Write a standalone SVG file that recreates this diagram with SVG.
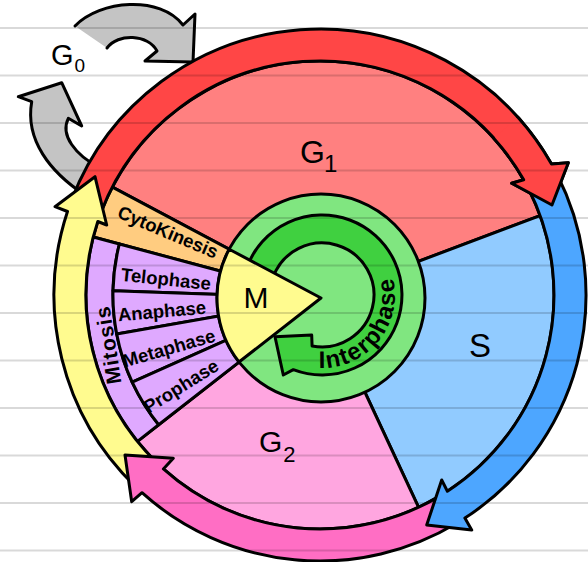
<svg xmlns="http://www.w3.org/2000/svg" width="588" height="562" viewBox="0 0 588 562">
<style>
.o{stroke:#000;stroke-width:3;stroke-linejoin:round;stroke-linecap:round}
.ns{fill:none;stroke:#000;stroke-width:3;stroke-linejoin:round;stroke-linecap:round}
.t{font-family:"Liberation Sans",Arial,sans-serif;fill:#000}
.ph{font-family:"Liberation Sans",Arial,sans-serif;font-weight:bold;font-size:18.5px;text-anchor:middle;dominant-baseline:central;fill:#000}
.gray{fill:#c4c4c4}
</style>
<rect width="588" height="562" fill="#fff"/>

<g id="g0-arrows">
  <path class="gray" d="M 75 26 C 100 0, 160 -5, 183 25 L 195 14 L 193 62 L 145 61 L 157 51 C 148 34, 118 33, 107 48 Z"/>
  <path class="ns" d="M 75 26 C 100 0, 160 -5, 183 25 L 195 14 L 193 62 L 145 61 L 157 51 C 148 34, 118 33, 107 48"/>
  <path class="gray o" d="M 85 195 C 50 172, 25 140, 31.7 101.7 L 18.3 96.7 L 61.7 82.7 L 81.7 126 L 68.3 118.3 C 60 135, 75 155, 100 168 Z"/>
</g>

<g id="sector-g1"><path class="o" fill="#ff8080" d="M 321 298 L 112.4 187.1 A 234 234 0 0 1 540.1 215.6 Z"/></g>
<g id="sector-s"><path class="o" fill="#91cbff" d="M 321 298 L 540.1 215.6 A 234 234 0 0 1 418.6 507.3 Z"/></g>
<g id="sector-g2"><path class="o" fill="#ffa6e0" d="M 321 298 L 418.6 507.3 A 234 234 0 0 1 137.5 441.4 Z"/></g>
<g id="sector-cytokinesis"><path class="o" fill="#ffcc80" d="M 321 298 L 93.3 237.0 A 234 234 0 0 1 112.4 187.1 Z"/></g>
<g id="sector-mitosis"><path class="o" fill="#dfa9ff" d="M 137.5 441.4 A 234 234 0 0 1 93.3 237.0 L 119.4 244.0 A 207 207 0 0 0 158.7 424.8 Z"/></g>
<g id="sector-telophase"><path class="o" fill="#dfa9ff" d="M 321 298 L 119.4 244.0 A 207 207 0 0 0 113.0 290.7 Z"/></g>
<g id="sector-anaphase"><path class="o" fill="#dfa9ff" d="M 321 298 L 113.0 290.7 A 207 207 0 0 0 116.7 334.0 Z"/></g>
<g id="sector-metaphase"><path class="o" fill="#dfa9ff" d="M 321 298 L 116.7 334.0 A 207 207 0 0 0 132.2 382.1 Z"/></g>
<g id="sector-prophase"><path class="o" fill="#dfa9ff" d="M 321 298 L 132.2 382.1 A 207 207 0 0 0 158.7 424.8 Z"/></g>

<g id="interphase">
  <circle class="o" cx="321" cy="298" r="104" fill="#80e680"/>
  <path class="o" fill="#40d040" d="M 246.8 267.6 A 80 80 0 1 1 293.3 369.7 L 283.3 375 L 275 336.7 L 311.7 335 L 312.1 346.0 A 52 52 0 1 0 273.1 277.2 Z"/>
</g>
<g id="m-phase">
  <path class="o" fill="#fffb8f" d="M 321 298 L 229.2 249.2 A 104 104 0 0 0 239.0 362.0 Z"/>
</g>

<g id="connectors">
  <path class="o" fill="#ff4646" d="M 71.7 199.7 A 266 266 0 0 1 551.5 164.0 L 568.3 162.7 L 552 205 L 511.7 183.3 L 523.7 179.8 A 234 234 0 0 0 101.5 211.1 Z"/>
  <path class="o" fill="#fffb8f" d="M 135.2 486.3 A 266 266 0 0 1 67.5 211.5 L 55 206.7 L 95 176.7 L 106.7 225 L 97.8 221.5 A 234 234 0 0 0 157.4 463.3 Z"/>
  <path class="o" fill="#ff6ec4" d="M 457.0 523.0 A 266 266 0 0 1 142.0 492.7 L 131.7 501.7 L 125 455 L 173.3 458.3 L 163.4 468.9 A 234 234 0 0 0 440.5 495.6 Z"/>
  <path class="o" fill="#4da6ff" d="M 557.0 174.2 A 266 266 0 0 1 464.9 518.1 L 471.7 530 L 426.7 525 L 441.7 480 L 447.4 491.2 A 234 234 0 0 0 528.5 188.8 Z"/>
  <path fill="#ff4646" d="M 517.7 117.0 A 266 266 0 0 1 551.5 164.0 L 568.3 162.7 L 552 205 L 511.7 183.3 L 523.7 179.8 A 234 234 0 0 0 493.9 138.4 Z"/>
  <path class="ns" d="M 517.7 117.0 A 266 266 0 0 1 551.5 164.0 L 568.3 162.7 L 552 205 L 511.7 183.3 L 523.7 179.8 A 234 234 0 0 0 493.9 138.4"/>
</g>

<g id="labels">
  <text class="t" x="51" y="65" font-size="29">G<tspan font-size="19" dx="1" dy="7">0</tspan></text>
  <text class="t" x="300" y="163" font-size="32">G<tspan font-size="24" dx="-1" dy="9">1</tspan></text>
  <text class="t" x="480" y="357" font-size="33" text-anchor="middle">S</text>
  <text class="t" x="259" y="452" font-size="30">G<tspan font-size="22" dx="1" dy="10">2</tspan></text>
  <text class="t" x="256" y="308" font-size="30" text-anchor="middle">M</text>
  <text class="ph" transform="translate(168,232) rotate(23)">CytoKinesis</text>
  <text class="ph" transform="translate(166,279) rotate(6)">Telophase</text>
  <text class="ph" transform="translate(162,311) rotate(-5)">Anaphase</text>
  <text class="ph" transform="translate(169,348) rotate(-16)">Metaphase</text>
  <text class="ph" transform="translate(181,386) rotate(-32)">Prophase</text>
  <text class="ph" style="font-size:21px" letter-spacing="1" transform="translate(108,345) rotate(-99)">Mitosis</text>
  <path id="ipath" d="M 298.2 364.0 A 73 73 0 0 0 384.6 257.4" fill="none"/>
  <text class="t" font-weight="bold" font-size="24" letter-spacing="1.5"><textPath href="#ipath" startOffset="50%" text-anchor="middle">Interphase</textPath></text>
</g>

<g id="paper-lines" stroke="#000" stroke-opacity="0.15" stroke-width="2">
  <line x1="0" y1="28" x2="588" y2="28"/>
  <line x1="0" y1="75.5" x2="588" y2="75.5"/>
  <line x1="0" y1="123" x2="588" y2="123"/>
  <line x1="0" y1="170.5" x2="588" y2="170.5"/>
  <line x1="0" y1="218" x2="588" y2="218"/>
  <line x1="0" y1="265.5" x2="588" y2="265.5"/>
  <line x1="0" y1="313" x2="588" y2="313"/>
  <line x1="0" y1="360.5" x2="588" y2="360.5"/>
  <line x1="0" y1="408" x2="588" y2="408"/>
  <line x1="0" y1="455.5" x2="588" y2="455.5"/>
  <line x1="0" y1="503" x2="588" y2="503"/>
  <line x1="0" y1="550.5" x2="588" y2="550.5"/>
</g>
</svg>
